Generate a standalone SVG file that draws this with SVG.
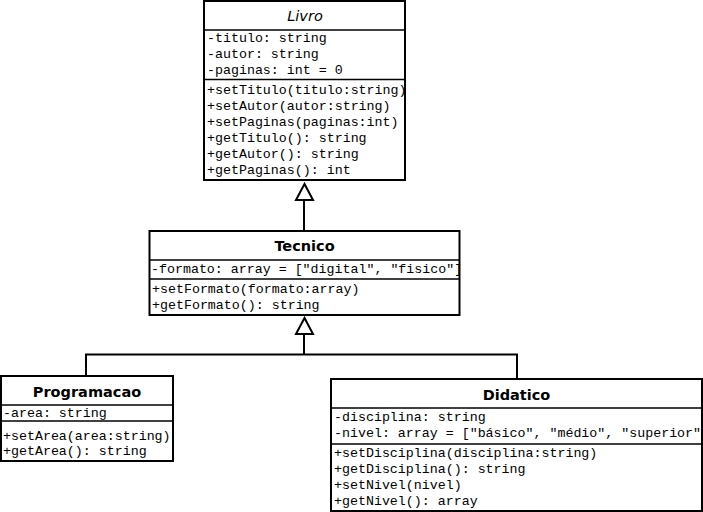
<svg xmlns="http://www.w3.org/2000/svg" width="703" height="512" viewBox="0 0 703 512">
<style>
.box{fill:#fff;stroke:#000;stroke-width:2}
.div{stroke:#000;stroke-width:1.5}
.title{font-family:"DejaVu Sans",Verdana,sans-serif;font-size:14.5px;fill:#000;text-anchor:middle}
.b{font-weight:bold}
.i{font-style:italic;font-weight:normal}
.m{font-family:"Liberation Mono","Courier New",monospace;font-size:13.3px;fill:#000}
.conn{fill:none;stroke:#000;stroke-width:2}
.tri{fill:#fff;stroke:#000;stroke-width:2}
</style>
<rect width="703" height="512" fill="#fff"/>
<g id="connectors">
<line class="conn" x1="304" y1="199" x2="304" y2="231"/>
<polygon class="tri" points="304.5,184 296,200 313,200"/>
<polyline class="conn" points="304,333 304,354.5"/>
<polyline class="conn" points="86,376 86,354.5 517,354.5 517,379"/>
<polygon class="tri" points="304.5,318 296,334 313,334"/>
</g>
<g id="Livro">
<rect class="box" x="204" y="1" width="201" height="179"/>
<line class="div" x1="204" y1="30" x2="405" y2="30"/>
<line class="div" x1="204" y1="79.5" x2="405" y2="79.5"/>
<text class="title i" x="305" y="21">Livro</text>
<text class="m" x="207" y="42">-titulo: string</text>
<text class="m" x="207" y="58">-autor: string</text>
<text class="m" x="207" y="74">-paginas: int = 0</text>
<text class="m" x="207" y="94">+setTitulo(titulo:string)</text>
<text class="m" x="207" y="110">+setAutor(autor:string)</text>
<text class="m" x="207" y="126">+setPaginas(paginas:int)</text>
<text class="m" x="207" y="142">+getTitulo(): string</text>
<text class="m" x="207" y="158">+getAutor(): string</text>
<text class="m" x="207" y="174">+getPaginas(): int</text>
</g>
<g id="Tecnico">
<rect class="box" x="149.5" y="231" width="310" height="84"/>
<line class="div" x1="149.5" y1="260" x2="459.5" y2="260"/>
<line class="div" x1="149.5" y1="279" x2="459.5" y2="279"/>
<text class="title b" x="304.5" y="250.5">Tecnico</text>
<text class="m" x="151" y="273">-formato: array = ["digital", "fisico"]</text>
<text class="m" x="152" y="293">+setFormato(formato:array)</text>
<text class="m" x="152" y="309">+getFormato(): string</text>
</g>
<g id="Programacao">
<rect class="box" x="1" y="376" width="172" height="85"/>
<line class="div" x1="1" y1="405" x2="173" y2="405"/>
<line class="div" x1="1" y1="421" x2="173" y2="421"/>
<text class="title b" x="87" y="396.5">Programacao</text>
<text class="m" x="3" y="417">-area: string</text>
<text class="m" x="3" y="440">+setArea(area:string)</text>
<text class="m" x="3" y="455">+getArea(): string</text>
</g>
<g id="Didatico">
<rect class="box" x="331" y="379" width="371" height="132"/>
<line class="div" x1="331" y1="408" x2="702" y2="408"/>
<line class="div" x1="331" y1="444" x2="702" y2="444"/>
<text class="title b" x="516.5" y="399.5">Didatico</text>
<text class="m" x="334" y="421">-disciplina: string</text>
<text class="m" x="334" y="437">-nivel: array = ["básico", "médio", "superior"]</text>
<text class="m" x="334" y="457">+setDisciplina(disciplina:string)</text>
<text class="m" x="334" y="473">+getDisciplina(): string</text>
<text class="m" x="334" y="489">+setNivel(nivel)</text>
<text class="m" x="334" y="505">+getNivel(): array</text>
</g>
</svg>
